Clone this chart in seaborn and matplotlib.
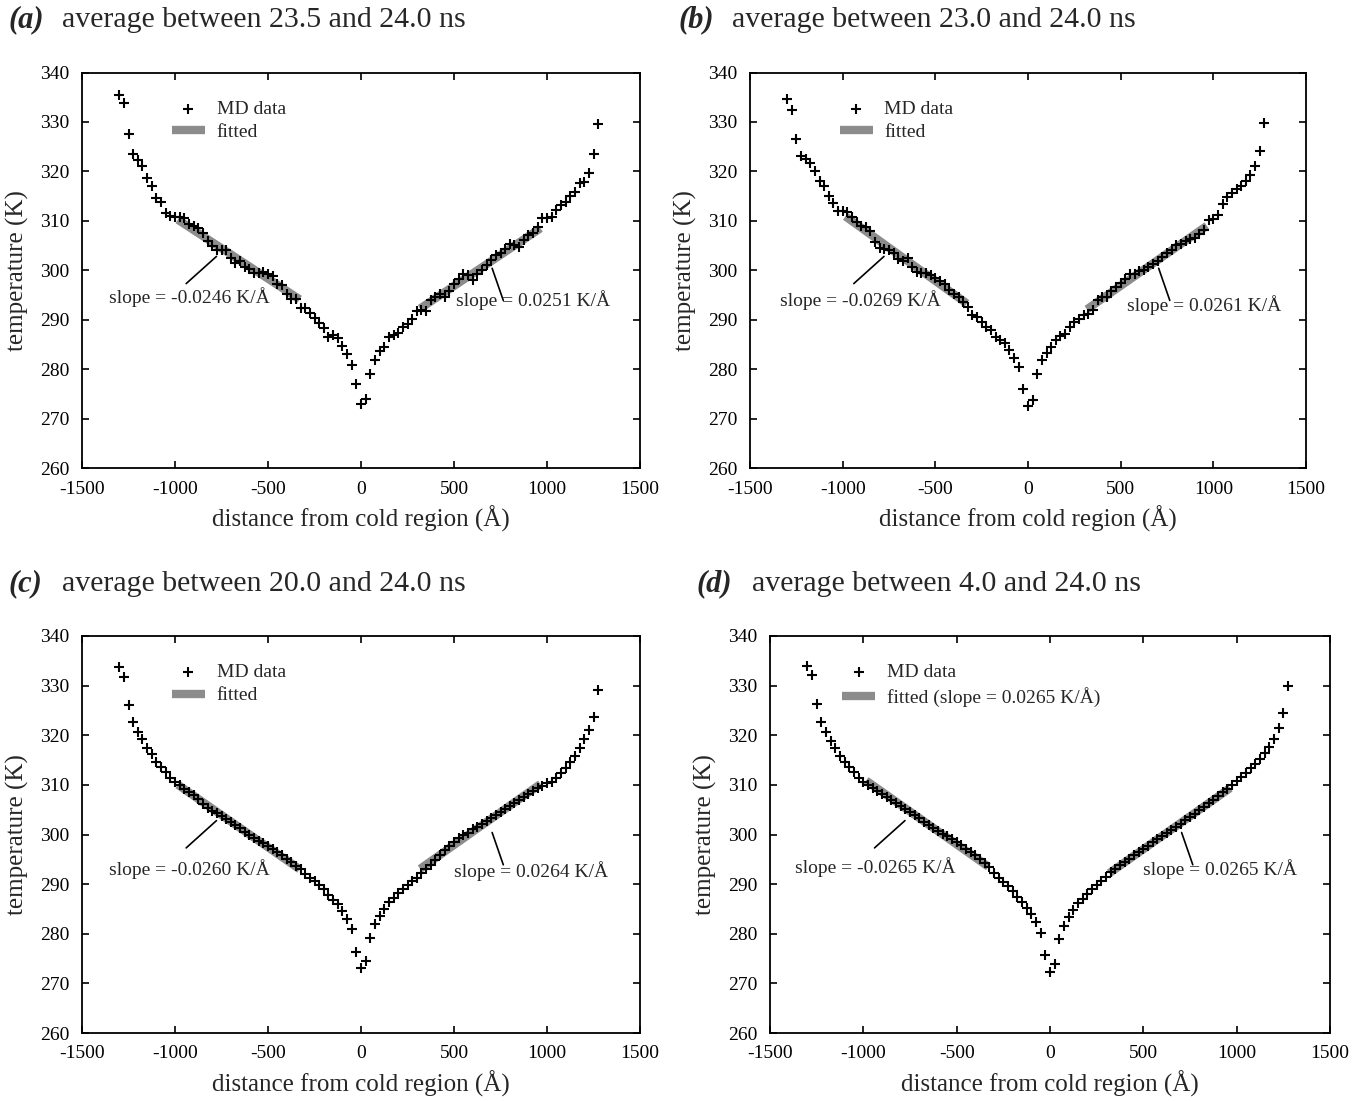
import numpy as np
import pandas as pd
import matplotlib
matplotlib.use("Agg")
import matplotlib.pyplot as plt
import seaborn as sns

# ---------------- data ----------------
distance = np.arange(-1300, 1276, 25)   # bin centres (Å), 104 bins

temp_a = [
    335.4, 333.8, 327.5, 323.5, 322.4, 321.1, 318.6, 317.0, 314.7, 313.8,
    311.6, 311.0, 310.8, 310.8, 310.5, 309.3, 308.9, 308.6, 307.6, 306.0,
    304.9, 304.1, 304.0, 304.1, 302.4, 301.4, 301.9, 300.7, 300.2, 299.4,
    299.4, 299.7, 299.3, 298.8, 297.3, 297.0, 295.2, 294.1, 294.1, 292.3,
    292.3, 291.3, 290.4, 289.4, 288.4, 286.4, 287.0, 286.2, 284.6, 283.0,
    280.8, 276.9, 273.0,
    274.0, 279.1, 281.8, 283.7, 284.5, 286.4, 287.0, 287.3, 288.5, 289.2,
    290.2, 291.8, 292.0, 291.8, 293.9, 294.5, 295.1, 294.6, 295.9, 297.2,
    298.3, 299.2, 299.0, 298.0, 299.2, 300.0, 301.0, 302.0, 303.0, 303.5,
    304.2, 305.3, 305.1, 304.8, 306.1, 307.1, 307.5, 308.8, 310.5, 310.5,
    310.8, 312.2, 313.2, 313.9, 315.0, 315.9, 317.6, 317.9, 319.6, 323.6,
    329.5]

temp_b = [
    334.6, 332.5, 326.5, 323.2, 322.5, 321.7, 320.1, 318.1, 317.0, 315.0,
    313.6, 312.0, 312.0, 311.8, 310.8, 309.8, 308.9, 308.7, 308.0, 305.7,
    304.4, 304.3, 304.1, 303.5, 302.2, 301.9, 302.4, 300.6, 299.7, 299.4,
    299.4, 299.0, 298.5, 297.9, 297.3, 296.0, 295.2, 294.5, 293.6, 292.5,
    290.9, 290.6, 289.6, 288.5, 288.0, 286.5, 285.8, 285.3, 283.8, 282.3,
    280.4, 275.9, 272.5,
    273.8, 279.1, 281.8, 283.3, 284.5, 285.8, 286.7, 287.2, 288.5, 289.6,
    290.2, 290.9, 291.2, 292.0, 293.9, 294.6, 294.6, 295.8, 296.6, 297.5,
    298.3, 299.2, 299.2, 299.8, 300.1, 300.6, 301.3, 301.8, 302.6, 303.4,
    304.0, 305.2, 305.3, 306.0, 306.3, 306.6, 307.3, 308.1, 310.1, 310.3,
    311.2, 313.4, 314.8, 315.7, 316.4, 317.1, 318.1, 319.3, 321.1, 324.2,
    329.8]

temp_c = [
    333.8, 331.8, 326.1, 322.6, 320.7, 319.2, 317.4, 316.2, 314.7, 313.7,
    312.5, 311.4, 310.6, 310.0, 309.2, 308.6, 307.9, 307.1, 306.2, 305.4,
    304.8, 304.3, 303.8, 303.2, 302.6, 301.9, 301.3, 300.5, 299.8, 299.2,
    298.6, 298.2, 297.7, 297.1, 296.5, 295.8, 295.1, 294.4, 293.7, 293.0,
    292.0, 291.3, 290.6, 289.8, 289.0, 287.9, 286.8, 285.9, 284.6, 283.0,
    280.9, 276.4, 273.0,
    274.5, 279.2, 281.9, 283.6, 285.0, 286.4, 287.2, 288.3, 289.1, 289.9,
    290.6, 291.3, 292.3, 293.1, 293.9, 294.8, 295.8, 296.8, 297.6, 298.4,
    299.2, 299.9, 300.4, 301.1, 301.6, 302.2, 302.8, 303.4, 303.9, 304.6,
    305.1, 305.8, 306.3, 306.9, 307.5, 308.1, 308.7, 309.3, 309.8, 310.3,
    310.6, 311.4, 312.3, 313.3, 314.7, 315.9, 317.4, 319.2, 321.0, 323.6,
    329.1]

temp_d = [
    334.0, 332.1, 326.2, 322.6, 320.6, 318.8, 317.4, 315.9, 314.7, 313.7,
    312.5, 311.4, 310.5, 309.9, 309.4, 308.8, 308.2, 307.6, 307.0, 306.3,
    305.7, 305.1, 304.5, 303.9, 303.3, 302.6, 302.0, 301.4, 300.8, 300.2,
    299.6, 299.0, 298.4, 297.8, 297.1, 296.5, 295.8, 295.1, 294.3, 293.4,
    292.3, 291.3, 290.5, 289.7, 288.6, 287.4, 286.4, 285.2, 283.9, 282.3,
    280.1, 275.7, 272.3,
    274.0, 278.9, 281.6, 283.4, 284.8, 286.1, 287.1, 288.1, 289.0, 289.8,
    290.6, 291.5, 292.4, 293.1, 293.8, 294.5, 295.1, 295.8, 296.4, 297.1,
    297.7, 298.4, 299.0, 299.6, 300.3, 300.9, 301.6, 302.2, 302.9, 303.5,
    304.2, 304.9, 305.6, 306.3, 307.0, 307.7, 308.5, 309.2, 310.0, 310.8,
    311.6, 312.4, 313.3, 314.3, 315.3, 316.4, 317.6, 319.2, 321.5, 324.4,
    329.9]

panel_letters = ["(a)", "(b)", "(c)", "(d)"]
panel_titles = ["average between 23.5 and 24.0 ns",
                "average between 23.0 and 24.0 ns",
                "average between 20.0 and 24.0 ns",
                "average between 4.0 and 24.0 ns"]
slope_left = [-0.0246, -0.0269, -0.0260, -0.0265]
slope_right = [0.0251, 0.0261, 0.0264, 0.0265]
fit_labels = ["fitted", "fitted", "fitted", "fitted (slope = 0.0265 K/Å)"]
temps = [temp_a, temp_b, temp_c, temp_d]
fit_left_range = (-985, -330)
fit_right_range = (318, 965)

# ---------------- style ----------------
sns.set_style("ticks")
plt.rcParams["font.family"] = ["Liberation Serif", "DejaVu Serif"]
plt.rcParams["axes.unicode_minus"] = False
plt.rcParams["axes.linewidth"] = 1.3

W, H = 1363, 1101
fig = plt.figure(figsize=(W / 100, H / 100), dpi=100)

# axes boxes in pixels: left, right, top, bottom
boxes = [(82, 640, 72.5, 468), (750, 1306, 72.5, 468),
         (82, 640, 636, 1033), (770, 1330, 636, 1033)]
title_pos = [(8, 62, 20), (678, 732, 20), (8, 62, 584), (697, 752, 584)]
legend_anchor = [(0.161, 0.93), (0.161, 0.93), (0.161, 0.93), (0.129, 0.93)]
text_left = [(-1355, 294.5), (-1339, 294.0), (-1355, 293.0), (-1366, 293.4)]
text_right = [(511, 294.0), (532, 293.0), (500, 292.6), (500, 293.0)]

for i in range(4):
    l, r, t, b = boxes[i]
    ax = fig.add_axes([l / W, 1 - b / H, (r - l) / W, (b - t) / H])
    df = pd.DataFrame({"distance": distance, "temperature": temps[i]})

    # fitted lines (slope from label, intercept through data mean in range)
    for j, (rng, slope) in enumerate([(fit_left_range, slope_left[i]),
                                      (fit_right_range, slope_right[i])]):
        sub = df[(df.distance >= rng[0]) & (df.distance <= rng[1])]
        icpt = sub.temperature.mean() - slope * sub.distance.mean()
        fx = np.array(rng, dtype=float)
        fdf = pd.DataFrame({"x": fx, "y": icpt + slope * fx})
        sns.lineplot(data=fdf, x="x", y="y", ax=ax, color="#8c8c8c",
                     linewidth=6, label=fit_labels[i] if j == 0 else "_nolegend_",
                     zorder=2, sort=False, solid_capstyle="butt")

    sns.scatterplot(data=df, x="distance", y="temperature", ax=ax,
                    marker="+", color="black", s=52, linewidth=1.5,
                    label="MD data", zorder=3)

    ax.set_xlim(-1500, 1500)
    ax.set_ylim(260, 340)
    ax.set_xticks([-1500, -1000, -500, 0, 500, 1000, 1500])
    ax.set_yticks(list(range(260, 341, 10)))
    ax.tick_params(direction="in", top=True, right=True, length=5, width=1.2,
                   labelsize=14, pad=9, colors="black")
    for sp in ax.spines.values():
        sp.set_visible(True)
        sp.set_color("black")
        sp.set_linewidth(1.3)
    ax.set_xlabel("distance from cold region (Å)", fontsize=18, labelpad=6)
    ax.set_ylabel("temperature (K)", fontsize=18, labelpad=8)

    h, lab = ax.get_legend_handles_labels()
    order = [lab.index("MD data"), lab.index(fit_labels[i])]
    leg = ax.legend([h[k] for k in order], [lab[k] for k in order],
                    loc="upper left", bbox_to_anchor=legend_anchor[i], frameon=False,
                    fontsize=14, handlelength=1.7, handletextpad=0.6, borderpad=0,
                    borderaxespad=0, labelspacing=0.28)
    for ln in leg.get_lines():
        ln.set_solid_capstyle("butt")

    # slope annotations
    ax.plot([-940, -777], [297.3, 302.8], color="black", lw=1.2, zorder=4)
    ax.plot([705, 765], [300.4, 293.9], color="black", lw=1.2, zorder=4)
    ax.text(text_left[i][0], text_left[i][1], f"slope = {slope_left[i]:.4f} K/Å",
            fontsize=14, va="center", ha="left")
    ax.text(text_right[i][0], text_right[i][1], f"slope = {slope_right[i]:.4f} K/Å",
            fontsize=14, va="center", ha="left", zorder=5)

    x1, x2, yt = title_pos[i]
    fig.text(x1 / W, 1 - yt / H, panel_letters[i], fontsize=22, weight="bold",
             style="italic", va="center", ha="left")
    fig.text(x2 / W, 1 - yt / H, panel_titles[i], fontsize=21.5,
             va="center", ha="left")

fig.savefig("out.png", dpi=100)
